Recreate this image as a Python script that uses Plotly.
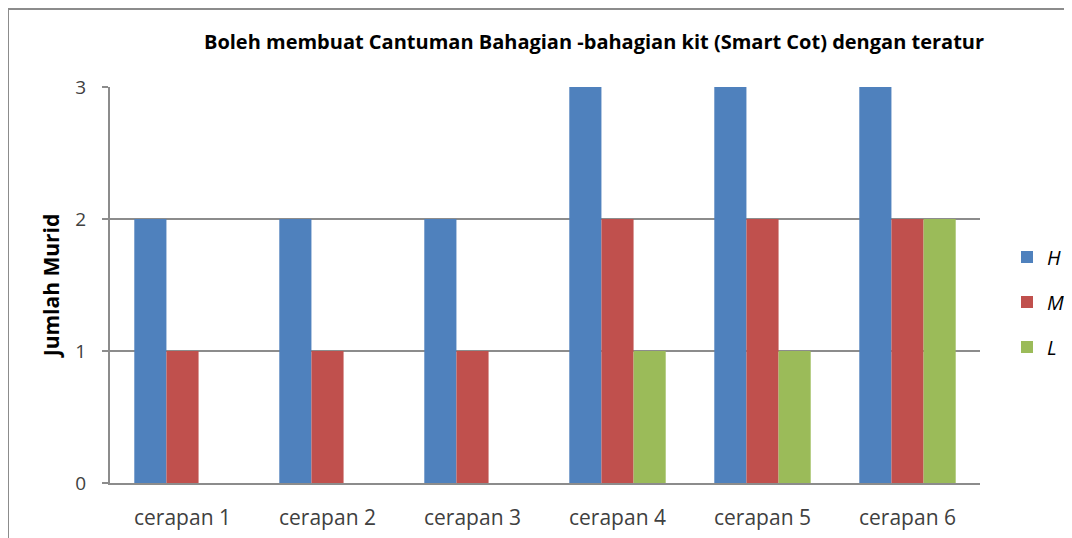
import plotly.graph_objects as go

categories = ["cerapan 1", "cerapan 2", "cerapan 3", "cerapan 4", "cerapan 5", "cerapan 6"]
h_vals = [2, 2, 2, 3, 3, 3]
m_vals = [1, 1, 1, 2, 2, 2]
l_vals = [0, 0, 0, 1, 1, 2]

# page body adds an 8px margin, so layout is given in figure coordinates
W, H = 1064, 530
PL, PR, PT, PB = 102, 972, 79, 475   # plot area edges
FONT = "Open Sans"

fig = go.Figure()
for name, vals, color in [("H", h_vals, "#4F81BD"), ("M", m_vals, "#C0504D"), ("L", l_vals, "#9BBB59")]:
    fig.add_trace(go.Bar(
        x=categories, y=vals, name=f"<i>{name}</i>", legendgroup=name,
        marker=dict(color=color, line=dict(width=0)),
    ))

pw, ph = PR - PL, PB - PT
# outer chart frame
fig.add_shape(type="rect", xref="paper", yref="paper",
              x0=(0 - PL) / pw, x1=(W + 20 - PL) / pw,
              y0=(PB - H - 20) / ph, y1=(PB - 1) / ph,
              line=dict(color="#8c8c8c", width=2), fillcolor="rgba(0,0,0,0)", layer="below")

fig.update_layout(
    width=W, height=H, autosize=False,
    barmode="group", bargap=0.335, bargroupgap=0,
    plot_bgcolor="white", paper_bgcolor="white",
    margin=dict(l=PL, r=W - PR, t=PT, b=H - PB, autoexpand=False),
    font=dict(family=FONT, color="#404040"),
    title=dict(text="<b>Boleh membuat Cantuman Bahagian -bahagian kit (Smart Cot) dengan teratur</b>",
               x=586 / W, xanchor="center", y=1 - 34 / H, yanchor="middle",
               font=dict(family=FONT, size=20, color="#000000")),
    xaxis=dict(showline=True, linecolor="#8c8c8c", linewidth=2, ticks="", automargin=False,
               tickfont=dict(family=FONT, size=21, color="#404040"),
               ticklabelstandoff=15, showgrid=False),
    yaxis=dict(range=[0, 3], dtick=1, showline=True, linecolor="#8c8c8c", linewidth=2,
               ticks="outside", ticklen=6, tickcolor="#8c8c8c", tickwidth=2, automargin=False,
               gridcolor="#8c8c8c", gridwidth=2, zeroline=False, ticklabelstandoff=12,
               tickfont=dict(family=FONT, size=19, color="#404040"),
               title=dict(text="<b>Jumlah Murid</b>", standoff=10,
                          font=dict(family=FONT, size=21, color="#000000"))),
    legend=dict(x=(999 - PL) / pw, y=0.457, yanchor="middle", xanchor="left",
                font=dict(family=FONT, size=20, color="#000000"),
                itemwidth=30, tracegroupgap=16, itemsizing="constant"),
)

fig.write_html("out.html")
